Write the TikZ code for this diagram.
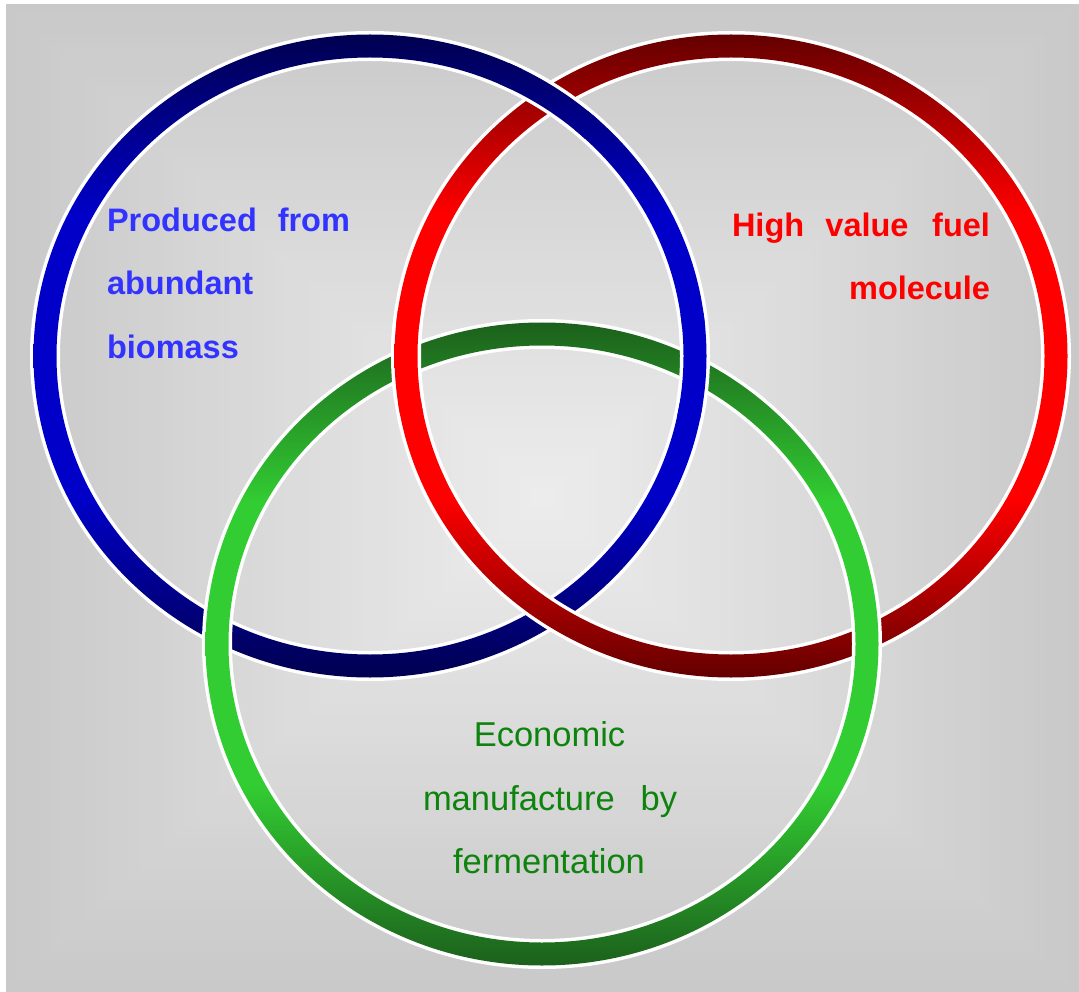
\documentclass[tikz,border=0pt]{standalone}
\usepackage{fontspec}
\setmainfont{Liberation Sans}
% background tones
\definecolor{bgout}{RGB}{201,201,201}
\definecolor{bgin}{RGB}{236,236,236}
% ring tones
\definecolor{bdark}{RGB}{0,0,80}
\definecolor{bbright}{RGB}{0,0,200}
\definecolor{rdark}{RGB}{100,0,0}
\definecolor{rbright}{RGB}{255,0,0}
\definecolor{gdark}{RGB}{28,96,28}
\definecolor{gbright}{RGB}{50,205,50}
% label tones
\definecolor{txtblue}{RGB}{51,51,255}
\definecolor{txtred}{RGB}{255,0,0}
\definecolor{txtgreen}{RGB}{14,132,14}

% vertical band shadings: dark at top and bottom, bright across the middle
\pgfdeclareverticalshading{blueband}{100bp}{color(0bp)=(bdark); color(25bp)=(bdark);
  color(39bp)=(bbright); color(61bp)=(bbright); color(75bp)=(bdark); color(100bp)=(bdark)}
\pgfdeclareverticalshading{redband}{100bp}{color(0bp)=(rdark); color(25bp)=(rdark);
  color(39bp)=(rbright); color(61bp)=(rbright); color(75bp)=(rdark); color(100bp)=(rdark)}
\pgfdeclareverticalshading{greenband}{100bp}{color(0bp)=(gdark); color(25bp)=(gdark);
  color(39bp)=(gbright); color(61bp)=(gbright); color(75bp)=(gdark); color(100bp)=(gdark)}

% white rim of a ring (#1 centre)
\newcommand\ringrim[1]{%
  \fill[white, even odd rule]
    #1 ellipse[x radius=340pt, y radius=325pt]
    #1 ellipse[x radius=310pt, y radius=295pt];
}
% shaded band of a ring (#1 centre, #2 shading)
\newcommand\ringband[2]{%
  \shade[even odd rule, shading=#2]
    #1 ellipse[x radius=336.5pt, y radius=321.5pt]
    #1 ellipse[x radius=313.5pt, y radius=298.5pt];
}
\newcommand\vennring[2]{\ringrim{#1}\ringband{#1}{#2}}
% redraw a ring on top around one crossing (#1 centre, #2 shading, #3 crossing)
\newcommand\ringover[3]{%
  \begin{scope}\clip #3 circle[radius=40pt]; \ringrim{#1}\end{scope}
  \begin{scope}\clip #3 circle[radius=54pt]; \ringband{#1}{#2}\end{scope}
}

\begin{document}
\begin{tikzpicture}[x=1pt, y=-1pt,
  lbl/.style={inner sep=0pt, outer sep=0pt},
  bluetxt/.style={lbl, text=txtblue, font=\fontsize{32.5}{38}\selectfont\bfseries},
  redtxt/.style={lbl, text=txtred, font=\fontsize{32.5}{38}\selectfont\bfseries},
  greentxt/.style={lbl, text=txtgreen, font=\fontsize{34.5}{40}\selectfont}]

\useasboundingbox (0,0) rectangle (1079,992);
\fill[white] (0,0) rectangle (1079,992);

% grey panel, lighter towards the middle
\foreach \i in {0,...,47} {
  \pgfmathsetmacro\bgs{1-\i/48}
  \pgfmathtruncatemacro\bgp{100*\i/47}
  \fill[bgin!\bgp!bgout]
    ({542.5-536.5*\bgs},{498-494*\bgs}) rectangle ({542.5+536.5*\bgs},{498+494*\bgs});
}

\coordinate (cb) at (370,356);
\coordinate (cr) at (731,356);
\coordinate (cg) at (542,644);
\coordinate (xtop) at (550.5,98);
\coordinate (xright) at (695,366);
\coordinate (xleft) at (406,362);

% the three rings
\vennring{(cb)}{blueband}
\vennring{(cr)}{redband}
\vennring{(cg)}{greenband}

% weave: blue over red at the top, blue over green on the right,
% red over green on the left
\ringover{(cb)}{blueband}{(xtop)}
\ringover{(cb)}{blueband}{(xright)}
\ringover{(cr)}{redband}{(xleft)}

% labels
\node[bluetxt, anchor=base west] (p1) at (107,232) {Produced};
\node[bluetxt, anchor=base east] (p2) at (350,232) {from};
\node[bluetxt, anchor=base west] (p3) at (107,295) {abundant};
\node[bluetxt, anchor=base west] (p4) at (107,358) {biomass};

\node[redtxt, anchor=base west] (h1) at (732,237) {High};
\node[redtxt, anchor=base] (h2) at (867,237) {value};
\node[redtxt, anchor=base east] (h3) at (990,237) {fuel};
\node[redtxt, anchor=base east] (h4) at (990,300) {molecule};

\node[greentxt, anchor=base] (e1) at (549.5,746) {Economic};
\node[greentxt, anchor=base west] (e2) at (423,810) {manufacture};
\node[greentxt, anchor=base east] (e3) at (677,810) {by};
\node[greentxt, anchor=base] (e4) at (549,873) {fermentation};
\end{tikzpicture}
\end{document}
